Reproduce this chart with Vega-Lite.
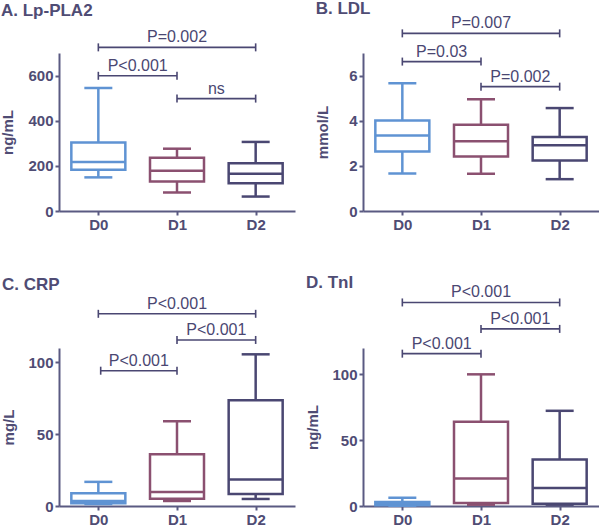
{
  "$schema": "https://vega.github.io/schema/vega-lite/v6.json",
  "padding": {"left": 0, "top": 0, "right": 0, "bottom": 0},
  "background": "white",
  "config": {
    "font": "Liberation Sans",
    "view": {"stroke": null},
    "tick": {"opacity": 1},
    "axis": {
      "grid": false,
      "domainColor": "#5a5a82",
      "domainWidth": 2,
      "tickColor": "#5a5a82",
      "tickWidth": 2,
      "tickSize": 4,
      "labelFont": "Liberation Sans",
      "labelFontSize": 15,
      "labelFontWeight": "bold",
      "labelColor": "#4f4c74",
      "labelPadding": 2,
      "titleFont": "Liberation Sans",
      "titleFontSize": 15,
      "titleFontWeight": "bold",
      "titleColor": "#4f4c74",
      "titlePadding": 10
    },
    "title": {
      "anchor": "start",
      "frame": "bounds",
      "font": "Liberation Sans",
      "fontSize": 17,
      "fontWeight": "bold",
      "color": "#4f4c74",
      "baseline": "alphabetic"
    }
  },
  "datasets": {
    "boxes": [
      {"panel": "A", "group": "D0", "idx": 0, "low": 149, "q1": 183, "median": 217, "q3": 303, "high": 545},
      {"panel": "A", "group": "D1", "idx": 1, "low": 82, "q1": 131, "median": 178, "q3": 236, "high": 276},
      {"panel": "A", "group": "D2", "idx": 2, "low": 64, "q1": 123, "median": 165, "q3": 211, "high": 306},
      {"panel": "B", "group": "D0", "idx": 0, "low": 1.66, "q1": 2.64, "median": 3.34, "q3": 4.01, "high": 5.66},
      {"panel": "B", "group": "D1", "idx": 1, "low": 1.65, "q1": 2.42, "median": 3.09, "q3": 3.82, "high": 4.95},
      {"panel": "B", "group": "D2", "idx": 2, "low": 1.41, "q1": 2.24, "median": 2.91, "q3": 3.28, "high": 4.56},
      {"panel": "C", "group": "D0", "idx": 0, "low": 1.4, "q1": 1.9, "median": 3.5, "q3": 8.9, "high": 16.8},
      {"panel": "C", "group": "D1", "idx": 1, "low": 3.5, "q1": 5.1, "median": 9.8, "q3": 36.1, "high": 59},
      {"panel": "C", "group": "D2", "idx": 2, "low": 4.9, "q1": 8.4, "median": 18.4, "q3": 73.7, "high": 105.6},
      {"panel": "D", "group": "D0", "idx": 0, "low": 0.2, "q1": 0.5, "median": 2.0, "q3": 3.0, "high": 6.3},
      {"panel": "D", "group": "D1", "idx": 1, "low": 1.0, "q1": 2.3, "median": 20.8, "q3": 64, "high": 100},
      {"panel": "D", "group": "D2", "idx": 2, "low": 1.0, "q1": 1.8, "median": 13.7, "q3": 35.3, "high": 72.3}
    ],
    "brackets": [
      {"panel": "A", "from": 0, "to": 2, "mid": 1, "y": 725, "label": "P=0.002"},
      {"panel": "A", "from": 0, "to": 1, "mid": 0.5, "y": 599, "label": "P<0.001"},
      {"panel": "A", "from": 1, "to": 2, "mid": 1.5, "y": 498, "label": "ns"},
      {"panel": "B", "from": 0, "to": 2, "mid": 1, "y": 7.87, "label": "P=0.007"},
      {"panel": "B", "from": 0, "to": 1, "mid": 0.5, "y": 6.62, "label": "P=0.03"},
      {"panel": "B", "from": 1, "to": 2, "mid": 1.5, "y": 5.51, "label": "P=0.002"},
      {"panel": "C", "from": 0, "to": 2, "mid": 1, "y": 133.8, "label": "P<0.001"},
      {"panel": "C", "from": 1, "to": 2, "mid": 1.5, "y": 115.6, "label": "P<0.001"},
      {"panel": "C", "from": 0.03, "to": 1, "mid": 0.515, "y": 94.2, "label": "P<0.001"},
      {"panel": "D", "from": 0, "to": 2, "mid": 1, "y": 154.6, "label": "P<0.001"},
      {"panel": "D", "from": 1, "to": 2, "mid": 1.5, "y": 134.5, "label": "P<0.001"},
      {"panel": "D", "from": 0, "to": 1, "mid": 0.5, "y": 115.7, "label": "P<0.001"}
    ]
  },
  "columns": 2,
  "spacing": {"column": 10, "row": 42},
  "concat": [
    {
      "title": {"text": "A. Lp-PLA2", "offset": 9},
      "width": 236, "height": 158,
      "layer": [
        {"data": {"name": "boxes"}, "transform": [{"filter": "datum.panel == 'A'"}],
         "mark": {"type": "rule", "strokeWidth": 2.5},
         "encoding": {
           "x": {"field": "idx", "type": "quantitative", "scale": {"domain": [-0.5, 2.5], "padding": 0, "nice": false, "zero": false}, "axis": {"values": [0, 1, 2], "labelExpr": "['D0','D1','D2'][datum.value]", "title": null}},
           "y": {"field": "low", "type": "quantitative", "scale": {"domain": [0, 700], "nice": false}, "axis": {"values": [0, 200, 400, 600], "title": "ng/mL", "titlePadding": 12}},
           "y2": {"field": "high"},
           "color": {"field": "group", "type": "nominal", "scale": {"domain": ["D0", "D1", "D2"], "range": ["#5f93d3", "#8b5070", "#4a4772"]}, "legend": null}}},
        {"data": {"name": "boxes"}, "transform": [{"filter": "datum.panel == 'A'"}],
         "mark": {"type": "bar", "width": 54, "fill": "white", "strokeWidth": 2.5},
         "encoding": {"x": {"field": "idx", "type": "quantitative"}, "y": {"field": "q1", "type": "quantitative"}, "y2": {"field": "q3"},
           "stroke": {"field": "group", "type": "nominal", "scale": {"domain": ["D0", "D1", "D2"], "range": ["#5f93d3", "#8b5070", "#4a4772"]}, "legend": null}}},
        {"data": {"name": "boxes"}, "transform": [{"filter": "datum.panel == 'A'"}],
         "mark": {"type": "tick", "orient": "horizontal", "size": 54, "thickness": 2.5, "opacity": 1},
         "encoding": {"x": {"field": "idx", "type": "quantitative"}, "y": {"field": "median", "type": "quantitative"}, "color": {"field": "group", "type": "nominal", "legend": null}}},
        {"data": {"name": "boxes"}, "transform": [{"filter": "datum.panel == 'A'"}, {"fold": ["low", "high"], "as": ["end", "val"]}],
         "mark": {"type": "tick", "orient": "horizontal", "size": 28, "thickness": 2.5, "opacity": 1},
         "encoding": {"x": {"field": "idx", "type": "quantitative"}, "y": {"field": "val", "type": "quantitative"}, "color": {"field": "group", "type": "nominal", "legend": null}}},
        {"data": {"name": "brackets"}, "transform": [{"filter": "datum.panel == 'A'"}],
         "mark": {"type": "rule", "color": "#4a4772", "strokeWidth": 1.6},
         "encoding": {"x": {"field": "from", "type": "quantitative"}, "x2": {"field": "to"}, "y": {"field": "y", "type": "quantitative"}}},
        {"data": {"name": "brackets"}, "transform": [{"filter": "datum.panel == 'A'"}, {"fold": ["from", "to"], "as": ["end", "xpos"]}],
         "mark": {"type": "tick", "orient": "vertical", "size": 8, "thickness": 1.6, "color": "#4a4772", "opacity": 1},
         "encoding": {"x": {"field": "xpos", "type": "quantitative"}, "y": {"field": "y", "type": "quantitative"}}},
        {"data": {"name": "brackets"}, "transform": [{"filter": "datum.panel == 'A'"}],
         "mark": {"type": "text", "fontSize": 16, "color": "#4a4772", "baseline": "alphabetic", "dy": -5},
         "encoding": {"x": {"field": "mid", "type": "quantitative"}, "y": {"field": "y", "type": "quantitative"}, "text": {"field": "label"}}}
      ]
    },
    {
      "title": {"text": "B. LDL", "offset": -3},
      "width": 236, "height": 158,
      "layer": [
        {"data": {"name": "boxes"}, "transform": [{"filter": "datum.panel == 'B'"}],
         "mark": {"type": "rule", "strokeWidth": 2.5},
         "encoding": {
           "x": {"field": "idx", "type": "quantitative", "scale": {"domain": [-0.5, 2.5], "padding": 0, "nice": false, "zero": false}, "axis": {"values": [0, 1, 2], "labelExpr": "['D0','D1','D2'][datum.value]", "title": null}},
           "y": {"field": "low", "type": "quantitative", "scale": {"domain": [0, 7], "nice": false}, "axis": {"values": [0, 2, 4, 6], "title": "mmol/L", "titlePadding": 18}},
           "y2": {"field": "high"},
           "color": {"field": "group", "type": "nominal", "scale": {"domain": ["D0", "D1", "D2"], "range": ["#5f93d3", "#8b5070", "#4a4772"]}, "legend": null}}},
        {"data": {"name": "boxes"}, "transform": [{"filter": "datum.panel == 'B'"}],
         "mark": {"type": "bar", "width": 54, "fill": "white", "strokeWidth": 2.5},
         "encoding": {"x": {"field": "idx", "type": "quantitative"}, "y": {"field": "q1", "type": "quantitative"}, "y2": {"field": "q3"},
           "stroke": {"field": "group", "type": "nominal", "scale": {"domain": ["D0", "D1", "D2"], "range": ["#5f93d3", "#8b5070", "#4a4772"]}, "legend": null}}},
        {"data": {"name": "boxes"}, "transform": [{"filter": "datum.panel == 'B'"}],
         "mark": {"type": "tick", "orient": "horizontal", "size": 54, "thickness": 2.5, "opacity": 1},
         "encoding": {"x": {"field": "idx", "type": "quantitative"}, "y": {"field": "median", "type": "quantitative"}, "color": {"field": "group", "type": "nominal", "legend": null}}},
        {"data": {"name": "boxes"}, "transform": [{"filter": "datum.panel == 'B'"}, {"fold": ["low", "high"], "as": ["end", "val"]}],
         "mark": {"type": "tick", "orient": "horizontal", "size": 28, "thickness": 2.5, "opacity": 1},
         "encoding": {"x": {"field": "idx", "type": "quantitative"}, "y": {"field": "val", "type": "quantitative"}, "color": {"field": "group", "type": "nominal", "legend": null}}},
        {"data": {"name": "brackets"}, "transform": [{"filter": "datum.panel == 'B'"}],
         "mark": {"type": "rule", "color": "#4a4772", "strokeWidth": 1.6},
         "encoding": {"x": {"field": "from", "type": "quantitative"}, "x2": {"field": "to"}, "y": {"field": "y", "type": "quantitative"}}},
        {"data": {"name": "brackets"}, "transform": [{"filter": "datum.panel == 'B'"}, {"fold": ["from", "to"], "as": ["end", "xpos"]}],
         "mark": {"type": "tick", "orient": "vertical", "size": 8, "thickness": 1.6, "color": "#4a4772", "opacity": 1},
         "encoding": {"x": {"field": "xpos", "type": "quantitative"}, "y": {"field": "y", "type": "quantitative"}}},
        {"data": {"name": "brackets"}, "transform": [{"filter": "datum.panel == 'B'"}],
         "mark": {"type": "text", "fontSize": 16, "color": "#4a4772", "baseline": "alphabetic", "dy": -5},
         "encoding": {"x": {"field": "mid", "type": "quantitative"}, "y": {"field": "y", "type": "quantitative"}, "text": {"field": "label"}}}
      ]
    },
    {
      "title": {"text": "C. CRP", "offset": 2},
      "width": 236, "height": 158,
      "layer": [
        {"data": {"name": "boxes"}, "transform": [{"filter": "datum.panel == 'C'"}],
         "mark": {"type": "rule", "strokeWidth": 2.5},
         "encoding": {
           "x": {"field": "idx", "type": "quantitative", "scale": {"domain": [-0.5, 2.5], "padding": 0, "nice": false, "zero": false}, "axis": {"values": [0, 1, 2], "labelExpr": "['D0','D1','D2'][datum.value]", "title": null}},
           "y": {"field": "low", "type": "quantitative", "scale": {"domain": [0, 110], "nice": false}, "axis": {"values": [0, 50, 100], "title": "mg/L", "titlePadding": 11}},
           "y2": {"field": "high"},
           "color": {"field": "group", "type": "nominal", "scale": {"domain": ["D0", "D1", "D2"], "range": ["#5f93d3", "#8b5070", "#4a4772"]}, "legend": null}}},
        {"data": {"name": "boxes"}, "transform": [{"filter": "datum.panel == 'C'"}],
         "mark": {"type": "bar", "width": 54, "fill": "white", "strokeWidth": 2.5},
         "encoding": {"x": {"field": "idx", "type": "quantitative"}, "y": {"field": "q1", "type": "quantitative"}, "y2": {"field": "q3"},
           "stroke": {"field": "group", "type": "nominal", "scale": {"domain": ["D0", "D1", "D2"], "range": ["#5f93d3", "#8b5070", "#4a4772"]}, "legend": null}}},
        {"data": {"name": "boxes"}, "transform": [{"filter": "datum.panel == 'C'"}],
         "mark": {"type": "tick", "orient": "horizontal", "size": 54, "thickness": 2.5, "opacity": 1},
         "encoding": {"x": {"field": "idx", "type": "quantitative"}, "y": {"field": "median", "type": "quantitative"}, "color": {"field": "group", "type": "nominal", "legend": null}}},
        {"data": {"name": "boxes"}, "transform": [{"filter": "datum.panel == 'C'"}, {"fold": ["low", "high"], "as": ["end", "val"]}],
         "mark": {"type": "tick", "orient": "horizontal", "size": 28, "thickness": 2.5, "opacity": 1},
         "encoding": {"x": {"field": "idx", "type": "quantitative"}, "y": {"field": "val", "type": "quantitative"}, "color": {"field": "group", "type": "nominal", "legend": null}}},
        {"data": {"name": "brackets"}, "transform": [{"filter": "datum.panel == 'C'"}],
         "mark": {"type": "rule", "color": "#4a4772", "strokeWidth": 1.6},
         "encoding": {"x": {"field": "from", "type": "quantitative"}, "x2": {"field": "to"}, "y": {"field": "y", "type": "quantitative"}}},
        {"data": {"name": "brackets"}, "transform": [{"filter": "datum.panel == 'C'"}, {"fold": ["from", "to"], "as": ["end", "xpos"]}],
         "mark": {"type": "tick", "orient": "vertical", "size": 8, "thickness": 1.6, "color": "#4a4772", "opacity": 1},
         "encoding": {"x": {"field": "xpos", "type": "quantitative"}, "y": {"field": "y", "type": "quantitative"}}},
        {"data": {"name": "brackets"}, "transform": [{"filter": "datum.panel == 'C'"}],
         "mark": {"type": "text", "fontSize": 16, "color": "#4a4772", "baseline": "alphabetic", "dy": -5},
         "encoding": {"x": {"field": "mid", "type": "quantitative"}, "y": {"field": "y", "type": "quantitative"}, "text": {"field": "label"}}}
      ]
    },
    {
      "title": {"text": "D. TnI", "offset": -8},
      "width": 236, "height": 158,
      "layer": [
        {"data": {"name": "boxes"}, "transform": [{"filter": "datum.panel == 'D'"}],
         "mark": {"type": "rule", "strokeWidth": 2.5},
         "encoding": {
           "x": {"field": "idx", "type": "quantitative", "scale": {"domain": [-0.5, 2.5], "padding": 0, "nice": false, "zero": false}, "axis": {"values": [0, 1, 2], "labelExpr": "['D0','D1','D2'][datum.value]", "title": null}},
           "y": {"field": "low", "type": "quantitative", "scale": {"domain": [0, 120], "nice": false}, "axis": {"values": [0, 50, 100], "title": "ng/mL", "titlePadding": 11}},
           "y2": {"field": "high"},
           "color": {"field": "group", "type": "nominal", "scale": {"domain": ["D0", "D1", "D2"], "range": ["#5f93d3", "#8b5070", "#4a4772"]}, "legend": null}}},
        {"data": {"name": "boxes"}, "transform": [{"filter": "datum.panel == 'D'"}],
         "mark": {"type": "bar", "width": 54, "fill": "white", "strokeWidth": 2.5},
         "encoding": {"x": {"field": "idx", "type": "quantitative"}, "y": {"field": "q1", "type": "quantitative"}, "y2": {"field": "q3"},
           "stroke": {"field": "group", "type": "nominal", "scale": {"domain": ["D0", "D1", "D2"], "range": ["#5f93d3", "#8b5070", "#4a4772"]}, "legend": null}}},
        {"data": {"name": "boxes"}, "transform": [{"filter": "datum.panel == 'D'"}],
         "mark": {"type": "tick", "orient": "horizontal", "size": 54, "thickness": 2.5, "opacity": 1},
         "encoding": {"x": {"field": "idx", "type": "quantitative"}, "y": {"field": "median", "type": "quantitative"}, "color": {"field": "group", "type": "nominal", "legend": null}}},
        {"data": {"name": "boxes"}, "transform": [{"filter": "datum.panel == 'D'"}, {"fold": ["low", "high"], "as": ["end", "val"]}],
         "mark": {"type": "tick", "orient": "horizontal", "size": 28, "thickness": 2.5, "opacity": 1},
         "encoding": {"x": {"field": "idx", "type": "quantitative"}, "y": {"field": "val", "type": "quantitative"}, "color": {"field": "group", "type": "nominal", "legend": null}}},
        {"data": {"name": "brackets"}, "transform": [{"filter": "datum.panel == 'D'"}],
         "mark": {"type": "rule", "color": "#4a4772", "strokeWidth": 1.6},
         "encoding": {"x": {"field": "from", "type": "quantitative"}, "x2": {"field": "to"}, "y": {"field": "y", "type": "quantitative"}}},
        {"data": {"name": "brackets"}, "transform": [{"filter": "datum.panel == 'D'"}, {"fold": ["from", "to"], "as": ["end", "xpos"]}],
         "mark": {"type": "tick", "orient": "vertical", "size": 8, "thickness": 1.6, "color": "#4a4772", "opacity": 1},
         "encoding": {"x": {"field": "xpos", "type": "quantitative"}, "y": {"field": "y", "type": "quantitative"}}},
        {"data": {"name": "brackets"}, "transform": [{"filter": "datum.panel == 'D'"}],
         "mark": {"type": "text", "fontSize": 16, "color": "#4a4772", "baseline": "alphabetic", "dy": -5},
         "encoding": {"x": {"field": "mid", "type": "quantitative"}, "y": {"field": "y", "type": "quantitative"}, "text": {"field": "label"}}}
      ]
    }
  ]
}
